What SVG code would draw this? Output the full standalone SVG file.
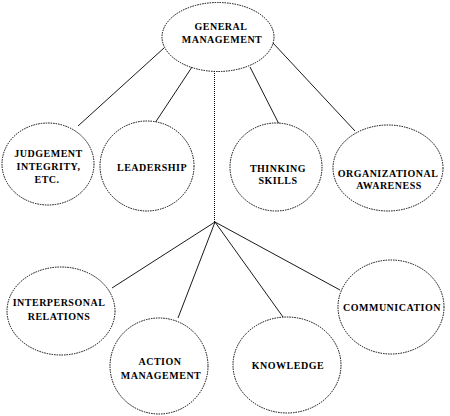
<svg xmlns="http://www.w3.org/2000/svg" width="450" height="416" viewBox="0 0 450 416">
<style>
.n ellipse{fill:#fff;stroke:#000;stroke-width:1;stroke-dasharray:1.5 1}
.n text{font-family:"Liberation Serif","Times New Roman",serif;font-weight:bold;font-size:10px;letter-spacing:0.5px;text-anchor:middle;fill:#000}
#connectors line{stroke:#000;stroke-width:0.9}
#connectors line.dot{stroke-dasharray:1 1;stroke-width:1}
</style>
<rect width="450" height="416" fill="#fff"/>
<g id="connectors">
<line class="dot" x1="214.5" y1="71" x2="214.5" y2="222"/>
<line x1="164" y1="48" x2="78" y2="126"/>
<line x1="192" y1="67" x2="155" y2="123"/>
<line x1="250" y1="67" x2="280" y2="126"/>
<line x1="273" y1="43" x2="355" y2="131"/>
<line x1="215" y1="222" x2="112" y2="288"/>
<line x1="215" y1="222" x2="178" y2="318"/>
<line x1="215" y1="222" x2="283" y2="317"/>
<line x1="215" y1="222" x2="340" y2="290"/>
</g>
<g id="general-management" class="n">
<ellipse cx="218" cy="37" rx="56" ry="34.5"/>
<text x="221" y="29.5">GENERAL</text>
<text x="222" y="43">MANAGEMENT</text>
</g>
<g id="judgement" class="n">
<ellipse cx="48" cy="164" rx="46" ry="41"/>
<text x="48.5" y="156.5">JUDGEMENT</text>
<text x="48.5" y="170">INTEGRITY,</text>
<text x="47" y="183">ETC.</text>
</g>
<g id="leadership" class="n">
<ellipse cx="147" cy="166" rx="47" ry="45"/>
<text x="152" y="170.5">LEADERSHIP</text>
</g>
<g id="thinking-skills" class="n">
<ellipse cx="276" cy="167" rx="46" ry="44"/>
<text x="278" y="172">THINKING</text>
<text x="278" y="184">SKILLS</text>
</g>
<g id="organizational-awareness" class="n">
<ellipse cx="388" cy="168" rx="55" ry="43"/>
<text x="388" y="176.5">ORGANIZATIONAL</text>
<text x="389" y="188.5">AWARENESS</text>
</g>
<g id="interpersonal-relations" class="n">
<ellipse cx="61" cy="311" rx="54" ry="44"/>
<text x="59" y="306">INTERPERSONAL</text>
<text x="59" y="320">RELATIONS</text>
</g>
<g id="action-management" class="n">
<ellipse cx="159" cy="366" rx="49" ry="48"/>
<text x="160" y="365">ACTION</text>
<text x="161" y="379">MANAGEMENT</text>
</g>
<g id="knowledge" class="n">
<ellipse cx="287" cy="365" rx="54" ry="48"/>
<text x="288" y="369">KNOWLEDGE</text>
</g>
<g id="communication" class="n">
<ellipse cx="391" cy="307" rx="53" ry="47"/>
<text x="392" y="311">COMMUNICATION</text>
</g>
</svg>
